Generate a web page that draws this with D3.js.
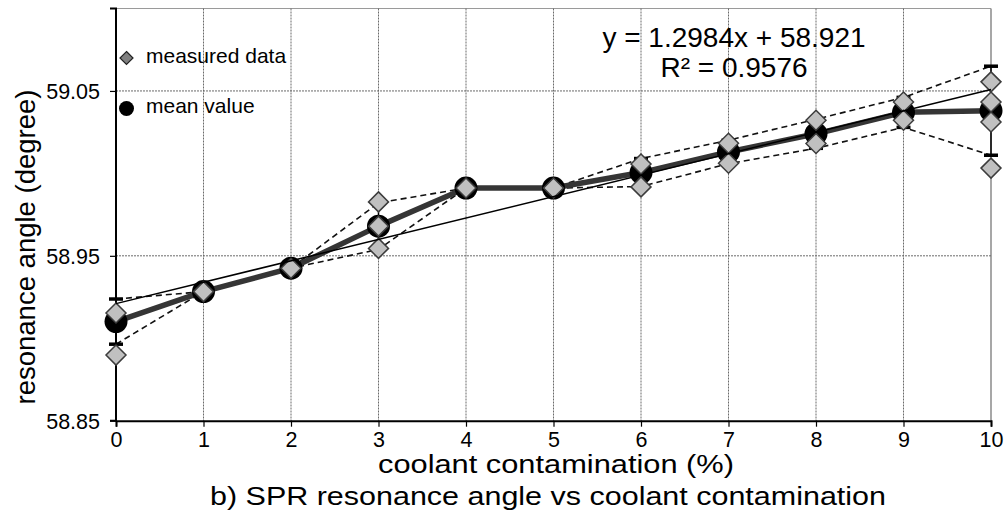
<!DOCTYPE html>
<html>
<head>
<meta charset="utf-8">
<script src="https://cdn.jsdelivr.net/npm/d3@7/dist/d3.min.js"></script>
<style>
  html, body { margin: 0; padding: 0; background: #fff; }
  svg { display: block; font-family: "Liberation Sans", Arial, sans-serif; }
</style>
</head>
<body>
<svg id="chart" width="1008" height="510"></svg>
<script>
// Coolant contamination (%) on the x axis
const categories = [0, 1, 2, 3, 4, 5, 6, 7, 8, 9, 10];
// Mean resonance angle (degree) at each contamination level
const meanValues = [58.9101, 58.9283, 58.9425, 58.9680, 58.9911, 58.9911, 59.0005, 59.0130, 59.0240, 59.0370, 59.0380];
// Standard deviation of the repeated measurements
const stdValues = [0.0137, 0, 0, 0.0141, 0, 0, 0.0085, 0.0071, 0.0088, 0.0091, 0.0270];
// Individual measured resonance angles at each level
const measuredData = [
  [58.9153, 58.8898],
  [58.9283],
  [58.9425],
  [58.9827, 58.9680, 58.9545],
  [58.9911],
  [58.9911],
  [59.0057, 58.9918],
  [59.0183, 59.0062],
  [59.0322, 59.0181],
  [59.0433, 59.0322],
  [59.0555, 59.0433, 59.0312, 59.0032]
];
// Linear fit (x as a fraction: y = slope * x + intercept)
const trendSlope = 1.2984;
const trendIntercept = 58.921;
const equationLines = ["y = 1.2984x + 58.921", "R\u00B2 = 0.9576"];
const yTickValues = [58.85, 58.95, 59.05];
const xTickValues = categories;
const legendLabels = ["measured data", "mean value"];

const svg = d3.select("#chart");
const x = d3.scaleLinear().domain([0, 10]).range([116, 991]);
const y = d3.scaleLinear().domain([58.85, 59.1]).range([420.7, 8.5]);

// plot frame: grey top and right borders
svg.append("line").attr("x1", x(0)).attr("x2", x(10)).attr("y1", y(59.1)).attr("y2", y(59.1))
  .attr("stroke", "#9a9a9a").attr("stroke-width", 1.2);
svg.append("line").attr("x1", x(10)).attr("x2", x(10)).attr("y1", y(59.1)).attr("y2", y(58.85))
  .attr("stroke", "#8a8a8a").attr("stroke-width", 1.5);

// dotted grid lines
const grid = svg.append("g").attr("stroke", "#6a6a6a").attr("stroke-width", 1).attr("stroke-dasharray", "2,1");
grid.selectAll("line.v").data(categories.filter(c => c > 0 && c < 10)).join("line")
  .attr("x1", d => x(d)).attr("x2", d => x(d)).attr("y1", y(59.1)).attr("y2", y(58.85));
grid.selectAll("line.h").data([58.95, 59.05]).join("line")
  .attr("x1", x(0)).attr("x2", x(10)).attr("y1", d => y(d)).attr("y2", d => y(d));

// axes
const yAxis = svg.append("g").attr("transform", `translate(${x(0)},0)`)
  .call(d3.axisLeft(y).tickValues(yTickValues).tickFormat(d3.format(".2f")).tickSize(6).tickPadding(10));
const xAxis = svg.append("g").attr("transform", `translate(0,${y(58.85)})`)
  .call(d3.axisBottom(x).tickValues(xTickValues).tickFormat(d3.format("d")).tickSize(6).tickPadding(4));
[yAxis, xAxis].forEach(a => {
  a.select(".domain").attr("stroke", "#000").attr("stroke-width", 2);
  a.selectAll(".tick line").attr("stroke", "#000").attr("stroke-width", 1.2);
  a.selectAll("text").attr("fill", "#000").attr("font-size", 21.5).attr("font-family", "Liberation Sans, Arial, sans-serif");
});
yAxis.select(".domain").attr("d", `M-6,${y(59.1)}H0V${y(58.85)}H-6`);
yAxis.selectAll("text").attr("dy", "0.36em");
xAxis.selectAll("text").attr("dy", "0.76em");

// mean +/- standard deviation envelopes (dashed)
const upperLine = d3.line().x((d, i) => x(categories[i])).y((d, i) => y(meanValues[i] + stdValues[i]));
const lowerLine = d3.line().x((d, i) => x(categories[i])).y((d, i) => y(meanValues[i] - stdValues[i]));
svg.append("path").attr("d", upperLine(meanValues)).attr("fill", "none")
  .attr("stroke", "#111").attr("stroke-width", 1.6).attr("stroke-dasharray", "6,4");
svg.append("path").attr("d", lowerLine(meanValues)).attr("fill", "none")
  .attr("stroke", "#111").attr("stroke-width", 1.6).attr("stroke-dasharray", "6,4");

// mean value line
const meanLine = d3.line().x((d, i) => x(categories[i])).y(d => y(d));
svg.append("path").attr("d", meanLine(meanValues)).attr("fill", "none")
  .attr("stroke", "#353535").attr("stroke-width", 5.5).attr("stroke-linejoin", "round");

// error bars
const err = svg.append("g").attr("stroke", "#000");
categories.forEach((c, i) => {
  if (stdValues[i] <= 0) return;
  const top = y(meanValues[i] + stdValues[i]), bot = y(meanValues[i] - stdValues[i]);
  err.append("line").attr("x1", x(c)).attr("x2", x(c)).attr("y1", top).attr("y2", bot).attr("stroke-width", 1.5);
  err.append("line").attr("x1", x(c) - 7).attr("x2", x(c) + 7).attr("y1", top).attr("y2", top).attr("stroke-width", 3.5);
  err.append("line").attr("x1", x(c) - 7).attr("x2", x(c) + 7).attr("y1", bot).attr("y2", bot).attr("stroke-width", 3.5);
});

// mean markers
svg.append("g").selectAll("circle").data(meanValues).join("circle")
  .attr("cx", (d, i) => x(categories[i])).attr("cy", d => y(d)).attr("r", 11.5)
  .attr("fill", "#000");

// measured data diamonds
const diamond = r => `M0,${-r}L${r},0L0,${r}L${-r},0Z`;
const pts = [];
measuredData.forEach((vals, i) => vals.forEach(v => pts.push({ c: categories[i], v })));
svg.append("g").selectAll("path").data(pts).join("path")
  .attr("d", diamond(10))
  .attr("transform", d => `translate(${x(d.c)},${y(d.v)})`)
  .attr("fill", "#c0c0c0").attr("stroke", "#3c3c3c").attr("stroke-width", 1.5);

// linear trend line
svg.append("line")
  .attr("x1", x(0)).attr("y1", y(trendIntercept + trendSlope * 0 / 100))
  .attr("x2", x(10)).attr("y2", y(trendIntercept + trendSlope * 10 / 100))
  .attr("stroke", "#000").attr("stroke-width", 1.5);

// trend equation
svg.append("g").selectAll("text").data(equationLines).join("text")
  .attr("x", 734).attr("y", (d, i) => 47 + i * 30)
  .attr("text-anchor", "middle").attr("font-size", 28).attr("fill", "#000")
  .text(d => d);

// legend
const leg = svg.append("g");
leg.append("path").attr("d", diamond(6.5)).attr("transform", "translate(126.5,58)")
  .attr("fill", "#808080").attr("stroke", "#222").attr("stroke-width", 1.2);
leg.append("circle").attr("cx", 126.5).attr("cy", 108.5).attr("r", 7.5).attr("fill", "#000");
leg.selectAll("text").data(legendLabels).join("text")
  .attr("x", 146).attr("y", (d, i) => 63 + i * 50)
  .attr("font-size", 21).attr("fill", "#000").text(d => d);

// axis titles and caption
svg.append("text").attr("transform", "translate(35,247) rotate(-90)")
  .attr("text-anchor", "middle").attr("font-size", 27.5).attr("fill", "#000")
  .text("resonance angle (degree)");
svg.append("text").attr("x", 556).attr("y", 473).attr("text-anchor", "middle")
  .attr("font-size", 25).attr("fill", "#000")
  .attr("textLength", 356).attr("lengthAdjust", "spacingAndGlyphs")
  .text("coolant contamination (%)");
svg.append("text").attr("x", 548).attr("y", 505).attr("text-anchor", "middle")
  .attr("font-size", 25).attr("fill", "#000")
  .attr("textLength", 676).attr("lengthAdjust", "spacingAndGlyphs")
  .text("b) SPR resonance angle vs coolant contamination");
</script>
</body>
</html>
